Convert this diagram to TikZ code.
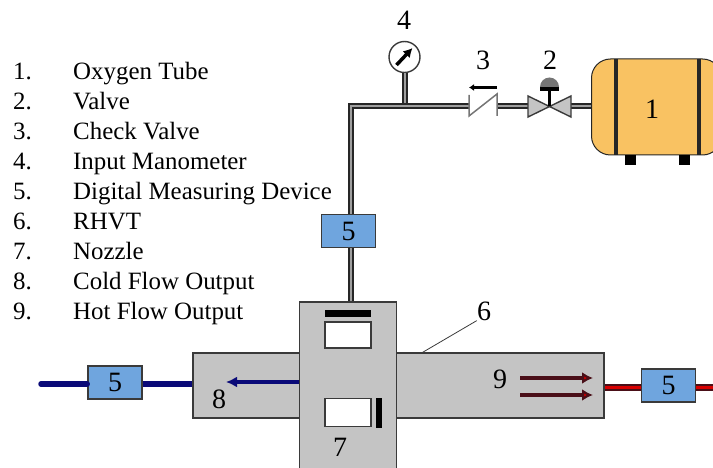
\documentclass[tikz,border=0pt]{standalone}
\usepackage{fontspec}
\setmainfont{Liberation Serif}
\usepackage{xcolor}
\usetikzlibrary{arrows.meta}
\definecolor{boxblue}{HTML}{6FA5DE}
\definecolor{tankyellow}{HTML}{F9C262}
\definecolor{bodygray}{HTML}{C4C4C4}
\definecolor{darkline}{HTML}{3A3A3A}
\definecolor{hotdark}{HTML}{4A0F18}
\definecolor{navyflow}{HTML}{0A0A78}
\tikzset{
    lbl/.style={font=\fontsize{28}{30}\selectfont, inner sep=0pt},
    item/.style={font=\fontsize{24.9}{28}\selectfont, inner sep=0pt, anchor=base west},
    meter/.style={draw=darkline, line width=1.6pt, fill=boxblue, minimum width=54pt, minimum height=33pt, inner sep=0pt, font=\fontsize{28}{30}\selectfont},
    casing/.style={draw=darkline, line width=1.6pt, fill=bodygray, inner sep=0pt},
    port/.style={draw=darkline, line width=1.4pt, fill=white, inner sep=0pt, minimum width=46pt},
    pipe/.style={draw=black!85, line width=2pt, double=gray!75, double distance=2pt},
    coldpipe/.style={draw=navyflow, line width=5.5pt},
    hotpipe/.style={draw=hotdark, line width=1.4pt, double=red!85!black, double distance=3.5pt},
    hotarrow/.style={draw=hotdark, line width=4.5pt, -{Latex[length=11pt,width=12pt,fill=red!80!black]}},
    thinvalve/.style={draw=darkline!70, line width=1.5pt},
    blackbar/.style={fill=black, inner sep=0pt}
}
\begin{document}
\begin{tikzpicture}[x=1pt,y=-1pt]
    \clip (0,0) rectangle (713,468);
    \useasboundingbox (0,0) rectangle (713,468);

    \node[item] at (13,79.5) (n1){1.};
    \node[item] at ([yshift = -30pt]n1.base west) (n2){2.};
    \node[item] at ([yshift = -30pt]n2.base west) (n3){3.};
    \node[item] at ([yshift = -30pt]n3.base west) (n4){4.};
    \node[item] at ([yshift = -30pt]n4.base west) (n5){5.};
    \node[item] at ([yshift = -30pt]n5.base west) (n6){6.};
    \node[item] at ([yshift = -30pt]n6.base west) (n7){7.};
    \node[item] at ([yshift = -30.5pt]n7.base west) (n8){8.};
    \node[item] at ([yshift = -29.5pt]n8.base west) (n9){9.};

    \node[item] at ([xshift = 60pt]n1.base west) (i1){Oxygen Tube};
    \node[item] at ([xshift = 60pt]n2.base west) (i2){Valve};
    \node[item] at ([xshift = 60pt]n3.base west) (i3){Check Valve};
    \node[item] at ([xshift = 60pt]n4.base west) (i4){Input Manometer};
    \node[item] at ([xshift = 60pt]n5.base west) (i5){Digital Measuring Device};
    \node[item] at ([xshift = 60pt]n6.base west) (i6){RHVT};
    \node[item] at ([xshift = 60pt]n7.base west) (i7){Nozzle};
    \node[item] at ([xshift = 60pt]n8.base west) (i8){Cold Flow Output};
    \node[item] at ([xshift = 60pt]n9.base west) (i9){Hot Flow Output};

    % pipes first, the boxes sit on top of them
    \node[circle, draw=darkline, line width=1.4pt, fill=white, minimum size=31pt, inner sep=0pt] at (404.5,57) (gauge){};
    \coordinate (chkl) at (469,106.5);
    \coordinate (chkr) at (497,106.5);
    \coordinate (vlvl) at (528,106.5);
    \coordinate (vlvr) at (571,106.5);
    \coordinate (vlvc) at (549.5,106.5);
    \coordinate (coldend) at (41,384);
    \coordinate (coldtip) at (226,382);
    \coordinate (hotend) at (716,387.5);

    \node[meter] at (348.5,231) (mtop){5};
    \node[meter] at (115,382.5) (mcold){5};
    \node[meter] at (668.5,385.5) (mhot){5};

    \node[casing, minimum width=411pt, minimum height=65pt] at (398.5,385.5) (arm){};
    \node[casing, anchor=north, minimum width=97pt, minimum height=180pt] at (348,301) (body){};

    \node[draw=black!85, line width=1pt, fill=tankyellow, rounded corners=19pt, minimum width=130pt, minimum height=96pt, inner sep=0pt, anchor=west] at (591,107) (tank){};
    \node[blackbar, minimum width=11pt, minimum height=10pt, anchor=north] at (630.5,155) (footl){};
    \node[blackbar, minimum width=11pt, minimum height=10pt, anchor=north] at (684,155) (footr){};
    \draw[draw=black!85, line width=4pt] (616,59) -- (616,155);
    \draw[draw=black!85, line width=4pt] (698.5,59) -- (698.5,155);

    \draw[pipe] (gauge.south) -- (gauge.south |- chkl);
    \draw[pipe] ([xshift = 2.5pt]mtop.north) |- (chkl);
    \draw[pipe] (chkr) -- (vlvl);
    \draw[pipe] (vlvr) -- (tank.west |- vlvr);
    \draw[pipe] ([xshift = 2.5pt]mtop.south) -- ([xshift = 3pt]body.north);

    \draw[coldpipe, line cap=round] (coldend) -- ([yshift = -1.5pt]mcold.west);
    \draw[coldpipe] ([yshift = -1.5pt]mcold.east) -- ([yshift = 1.5pt]arm.west);
    \draw[hotpipe] ([yshift = -2pt]arm.east) -- ([yshift = -2pt]mhot.west);
    \draw[hotpipe] ([yshift = -2pt]mhot.east) -- (hotend);

    % needle of the gauge
    \draw[black, line width=3.5pt, -{Latex[length=9pt,width=10pt]}] ([shift={(-8,8)}]gauge.center) -- ([shift={(8,-9)}]gauge.center);

    % check valve
    \draw[thinvalve] (469,95) -- (469,116) -- (497,94) -- (497,116);
    \draw[black, line width=3pt, -{Latex[length=5pt,width=7pt]}] (497,87.5) -- (469,87.5);

    % valve
    \draw[draw=darkline, line width=1.4pt, fill=bodygray] (528,96) -- (vlvc) -- (528,117) -- cycle;
    \draw[draw=darkline, line width=1.4pt, fill=bodygray] (571,96) -- (vlvc) -- (571,117) -- cycle;
    \draw[black, line width=3pt] (vlvc) -- (549.5,88);
    \fill[black] (540,91) rectangle (559,87);
    \fill[darkline!70] (540,87) arc[start angle=180, end angle=360, radius=9.5];

    % inside of the tube
    \node[port, minimum height=26pt] at (348,335) (pup){};
    \node[blackbar, minimum width=46pt, minimum height=7pt] at (348,313.5) (barup){};
    \node[port, minimum height=28pt] at (348,412.5) (plow){};
    \node[blackbar, minimum width=6pt, minimum height=30pt] at (379,413) (barlow){};

    \draw[draw=navyflow, line width=4pt, -{Latex[length=11pt,width=11pt]}] (body.west |- coldtip) -- (coldtip);
    \draw[hotarrow] (520,378) -- (593,378);
    \draw[hotarrow] (520,395) -- (593,395);

    % numbers
    \node[lbl] at (404,20) (t4){4};
    \node[lbl] at (483,60) (t3){3};
    \node[lbl] at (550,60) (t2){2};
    \node[lbl] at (652,109) (t1){1};
    \node[lbl] at (484,311) (t6){6};
    \node[lbl] at (500,379) (t9){9};
    \node[lbl] at (219,399) (t8){8};
    \node[lbl] at (340,447) (t7){7};
    \coordinate (lead) at (421.5,353);
    \draw[darkline, line width=0.8pt] (lead) -- (t6.south west);
\end{tikzpicture}
\end{document}
